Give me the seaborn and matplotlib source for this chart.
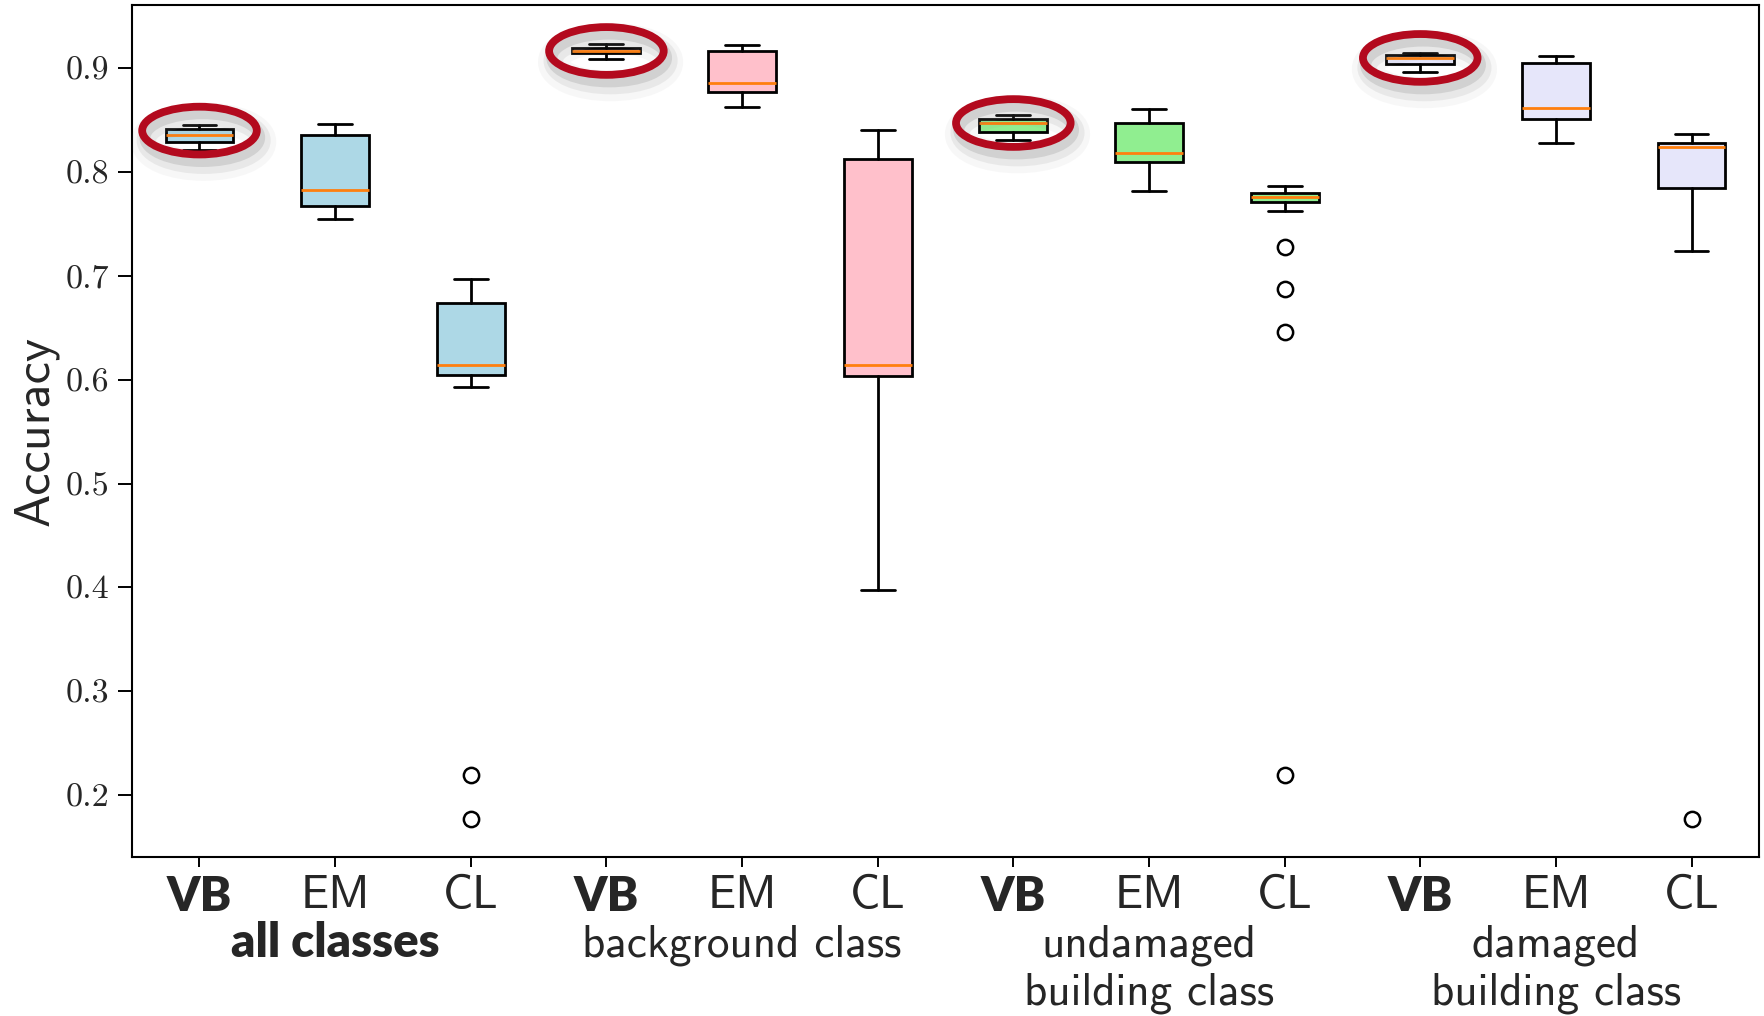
import matplotlib
matplotlib.use("Agg")
import matplotlib.pyplot as plt
import matplotlib.patheffects as pe
from matplotlib.patches import Ellipse
import seaborn as sns

# Box summaries (accuracy per method and class group)
methods = ["VB", "EM", "CL"] * 4
groups = [["all classes"], ["background class"],
          ["undamaged", "building class"], ["damaged", "building class"]]
whislo = [0.821, 0.7545, 0.593, 0.909, 0.863, 0.397, 0.831, 0.782, 0.763, 0.8964, 0.8277, 0.724]
q1 = [0.829, 0.767, 0.6045, 0.9145, 0.877, 0.604, 0.8386, 0.810, 0.771, 0.9044, 0.851, 0.7844]
med = [0.836, 0.7825, 0.614, 0.9167, 0.886, 0.614, 0.8473, 0.8184, 0.776, 0.910, 0.8615, 0.8245]
q3 = [0.8415, 0.836, 0.674, 0.920, 0.917, 0.8126, 0.851, 0.8473, 0.780, 0.9125, 0.9048, 0.828]
whishi = [0.845, 0.846, 0.697, 0.923, 0.922, 0.841, 0.855, 0.861, 0.7866, 0.915, 0.9116, 0.8364]
fliers = [[], [], [0.2195, 0.177], [], [], [], [], [], [0.728, 0.6874, 0.6462, 0.2195],
          [], [], [0.177]]
group_colors = ["lightblue", "pink", "lightgreen", "lavender"]
yticks = [0.2, 0.3, 0.4, 0.5, 0.6, 0.7, 0.8, 0.9]

sns.set_style("ticks")
plt.rcParams["font.family"] = ["cmss10", "DejaVu Sans"]
plt.rcParams["axes.unicode_minus"] = False

fig = plt.figure(figsize=(17.65, 10.16), dpi=100)
ax = fig.add_axes([0.0746, 0.1562, 0.9968 - 0.0746, 0.9951 - 0.1562])

stats = []
for i in range(len(methods)):
    stats.append(dict(whislo=whislo[i], q1=q1[i], med=med[i], q3=q3[i],
                      whishi=whishi[i], fliers=fliers[i]))
positions = list(range(1, len(methods) + 1))

bp = ax.bxp(stats, positions=positions, widths=0.5, patch_artist=True,
            boxprops=dict(edgecolor="black", linewidth=2.0),
            whiskerprops=dict(color="black", linewidth=2.0),
            capprops=dict(color="black", linewidth=2.0),
            medianprops=dict(color="#ff7f0e", linewidth=2.0),
            flierprops=dict(marker="o", markersize=11, markerfacecolor="none",
                            markeredgecolor="black", markeredgewidth=1.8))
for i, box in enumerate(bp["boxes"]):
    box.set_facecolor(group_colors[i // 3])

# red rings around the VB boxes
for i in range(0, len(methods), 3):
    ell = Ellipse((positions[i], med[i] + (0.004 if i == 0 else 0.0)), 0.845, 0.046,
                  fill=False, edgecolor="#b30a1e", linewidth=5.6, zorder=6)
    ell.set_path_effects([
        pe.SimpleLineShadow(offset=(3, -8), shadow_color="gray", alpha=0.06, linewidth=22),
        pe.SimpleLineShadow(offset=(3, -7), shadow_color="gray", alpha=0.12, linewidth=14),
        pe.SimpleLineShadow(offset=(2, -5), shadow_color="gray", alpha=0.22, linewidth=8),
        pe.Normal()])
    ax.add_patch(ell)

ax.set_xlim(0.5, len(methods) + 0.5)
ax.set_ylim(0.14, 0.961)
ax.set_yticks(yticks)
ax.set_yticklabels([f"{v:.1f}" for v in yticks], fontfamily="cmr10", fontsize=24.5)
ax.set_xticks(positions)
ax.set_xticklabels(methods, fontsize=34)
for lab in ax.get_xticklabels():
    if lab.get_text() == "VB":
        lab.set_fontfamily(["Lato", "DejaVu Sans"])
        lab.set_fontweight("heavy")
        lab.set_fontsize(34)
ax.tick_params(axis="x", length=7, width=1.4, pad=6, color="black")
ax.tick_params(axis="y", length=10, width=1.4, pad=6, color="black")
for sp in ax.spines.values():
    sp.set_linewidth(1.5)
    sp.set_color("black")

ax.set_ylabel("Accuracy", fontsize=36)
ax.yaxis.set_label_coords(-0.045, 0.5)

# group labels under the tick labels
trans = ax.get_xaxis_transform()
line_y = [-0.1164, -0.1727]
for g, lines in enumerate(groups):
    for k, line in enumerate(lines):
        if g == 0:
            ax.text(positions[g * 3 + 1], line_y[k], line, transform=trans, ha="center",
                    va="baseline", fontsize=34, fontfamily=["Lato", "DejaVu Sans"],
                    fontweight="heavy")
        else:
            ax.text(positions[g * 3 + 1], line_y[k], line, transform=trans, ha="center",
                    va="baseline", fontsize=32.5)

fig.savefig("out.png", dpi=100)
